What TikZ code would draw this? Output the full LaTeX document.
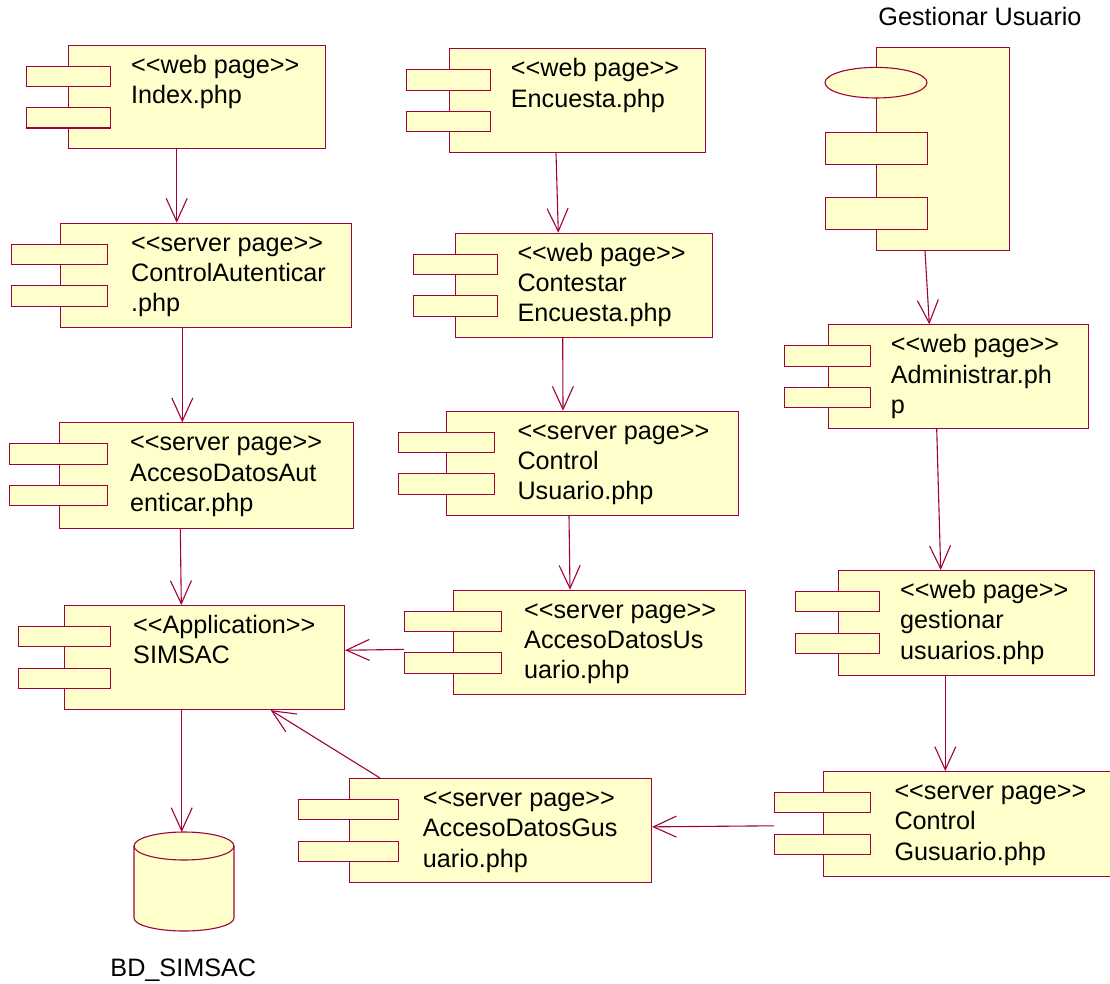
\documentclass[tikz,border=0pt]{standalone}
\usepackage{fontspec}
\setmainfont{Liberation Sans}
\usetikzlibrary{arrows.meta,shapes.geometric}
\definecolor{umlline}{RGB}{160,0,60}
\definecolor{umlfill}{RGB}{255,255,204}

% stereotype brackets, kept apart so the font does not merge them into guillemets
\newcommand\stopen{<{}<}
\newcommand\stclose{>{}>}

% component: name, body left, body top, body width, body height,
%            tab left, tab width, text left, text lines
\newcommand\umlcomp[9]{%
  \node[body,minimum width=#4pt,minimum height=#5pt,anchor=north west] (#1) at (#2,#3) {};
  \node[tab,minimum width=#7pt,anchor=north west] (#1-a) at (#6,#3+21) {};
  \node[tab,minimum width=#7pt,anchor=north west] (#1-b) at (#6,#3+62.5) {};
  \node[txt,anchor=north west] (#1-t) at (#8,#3+7.1) {\strut #9};
}

\begin{document}
\begin{tikzpicture}[x=1pt,y=-1pt,
  body/.style={draw=umlline,fill=umlfill,line width=1.1pt,inner sep=0pt},
  tab/.style={draw=umlline,fill=umlfill,line width=1.1pt,inner sep=0pt,minimum height=20.3pt},
  txt/.style={inner sep=0pt,align=left,font=\fontsize{25.2}{30.3}\selectfont},
  lbl/.style={inner sep=0pt,font=\fontsize{25.2}{30.3}\selectfont},
  dep/.style={draw=umlline,line width=1.1pt,-{Straight Barb[length=23pt,width=21pt,line width=1.1pt]}}]
\useasboundingbox (0,0) rectangle (1110,984);

% left column
\umlcomp{idx}{68}{44.7}{257.3}{103.3}{26}{84}{131}{\stopen web page\stclose\\Index.php}
\umlcomp{ca}{60}{222.7}{291.3}{104}{11}{96}{131}{\stopen server page\stclose\\ControlAutenticar\\.php}
\umlcomp{ada}{58.7}{422.3}{294.6}{105.4}{9}{97.7}{130}{\stopen server page\stclose\\AccesoDatosAut\\enticar.php}
\umlcomp{sim}{64}{605}{280}{104}{18}{92}{133}{\stopen Application\stclose\\SIMSAC}

% middle column
\umlcomp{enc}{448.7}{48.3}{256.3}{104}{405.7}{84.6}{510.7}{\stopen web page\stclose\\Encuesta.php}
\umlcomp{con}{455.3}{232.7}{256.4}{104}{412.7}{84}{517.3}{\stopen web page\stclose\\Contestar\\Encuesta.php}
\umlcomp{cu}{446.3}{410.7}{292}{104.3}{397.7}{96.6}{517.3}{\stopen server page\stclose\\Control\\Usuario.php}
\umlcomp{adu}{453}{589.7}{291.7}{104}{404}{96.7}{524}{\stopen server page\stclose\\AccesoDatosUs\\uario.php}
\umlcomp{adg}{349}{778}{302}{104}{298.3}{100}{422.7}{\stopen server page\stclose\\AccesoDatosGus\\uario.php}

% right column
\umlcomp{adm}{827.7}{324.3}{260}{103.7}{784}{86}{890.7}{\stopen web page\stclose\\Administrar.ph\\p}
\umlcomp{ges}{838}{570}{256.3}{105}{794.7}{84.6}{900}{\stopen web page\stclose\\gestionar\\usuarios.php}
\umlcomp{cgu}{823}{771}{292}{105}{774}{96.3}{894.3}{\stopen server page\stclose\\Control\\Gusuario.php}

% component Gestionar Usuario
\node[body,minimum width=133pt,minimum height=203pt,anchor=north west] (gu) at (876.3,46.7) {};
\node[body,ellipse,minimum width=102pt,minimum height=30.6pt] (gu-e) at (876,82.7) {};
\node[body,minimum width=102pt,minimum height=32pt,anchor=north west] (gu-a) at (825,132.3) {};
\node[body,minimum width=102pt,minimum height=32pt,anchor=north west] (gu-b) at (825,197.3) {};
\node[lbl,anchor=base] (gu-l) at (980,26) {Gestionar Usuario};

% database
\node[minimum width=100pt,minimum height=99pt,inner sep=0pt,anchor=north] (db) at (184,832) {};
\filldraw[draw=umlline,fill=umlfill,line width=1.1pt]
  (134,846) -- (134,918) arc[start angle=180,end angle=360,x radius=50pt,y radius=13pt]
  -- (234,846) arc[start angle=0,end angle=180,x radius=50pt,y radius=14pt] -- cycle;
\draw[umlline,line width=1.1pt] (134,846) arc[start angle=180,end angle=360,x radius=50pt,y radius=14pt];
\node[lbl,anchor=base] (db-l) at (183.3,976.7) {BD\_SIMSAC};

% dependencies
\draw[dep] ([xshift=108.7pt]idx.south west) -- ([xshift=116.7pt]ca.north west);
\draw[dep] ([xshift=122.3pt]ca.south west) -- ([xshift=123.6pt]ada.north west);
\draw[dep] ([xshift=121.6pt]ada.south west) -- ([xshift=117.3pt]sim.north west);
\draw[dep] ([xshift=117.7pt]sim.south west) -- ([xshift=-2.3pt]db.north);
\draw[dep] ([yshift=-17.3pt]adu-a.south west) -- ([yshift=7.3pt]sim.east);
\draw[dep] ([xshift=31pt]adg.north west) -- ([xshift=206.7pt]sim.south west);
\draw[dep] ([yshift=-12.4pt]cgu-a.south west) -- ([yshift=3.7pt]adg.east);
\draw[dep] ([xshift=107.3pt]enc.south west) -- ([xshift=103pt]con.north west);
\draw[dep] ([xshift=107.4pt]con.south west) -- ([xshift=116.7pt]cu.north west);
\draw[dep] ([xshift=122.7pt]cu.south west) -- ([xshift=117pt]adu.north west);
\draw[dep] ([xshift=48.7pt]gu.south west) -- ([xshift=101.6pt]adm.north west);
\draw[dep] ([xshift=109pt]adm.south west) -- ([xshift=102.7pt]ges.north west);
\draw[dep] ([xshift=107.3pt]ges.south west) -- ([xshift=122.3pt]cgu.north west);
\end{tikzpicture}
\end{document}
